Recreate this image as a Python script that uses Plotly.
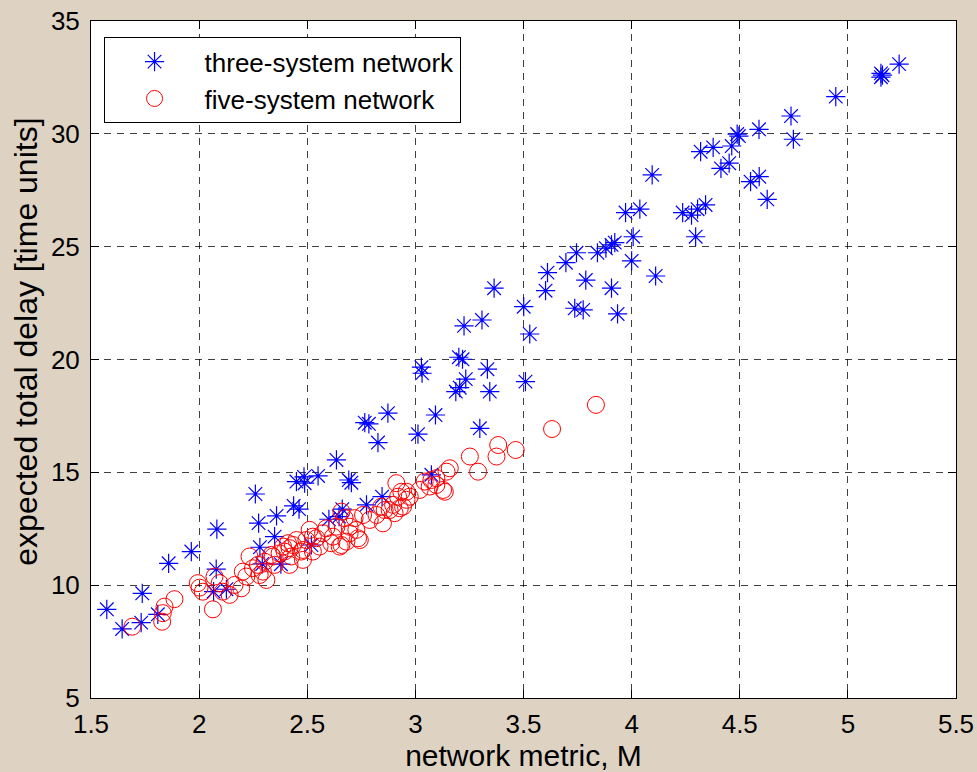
import plotly.graph_objects as go

# three-system network (blue stars)
three_x = [1.573, 1.644, 1.737, 1.732, 1.809, 1.859, 1.964, 2.082, 2.079, 2.067,
           2.126, 2.260, 2.275, 2.281, 2.292, 2.358, 2.349, 2.378, 2.437, 2.462,
           2.450, 2.485, 2.488, 2.550, 2.519, 2.600, 2.647, 2.662, 2.635, 2.692,
           2.704, 2.774, 2.846, 2.766, 2.785, 2.827, 2.873, 3.012, 3.093, 3.074,
           3.028, 3.031, 3.201, 3.218, 3.187, 3.205, 3.233, 3.225, 3.308, 3.333,
           3.344, 3.298, 3.364, 3.501, 3.509, 3.529, 3.602, 3.611, 3.696, 3.737,
           3.776, 3.745, 3.788, 3.842, 3.881, 3.907, 3.922, 3.907, 3.935, 3.972,
           4.007, 4.000, 4.038, 4.095, 4.111, 4.236, 4.277, 4.305, 4.342, 4.296,
           4.319, 4.377, 4.413, 4.451, 4.463, 4.488, 4.496, 4.589, 4.590, 4.550,
           4.627, 4.737, 4.748, 4.944, 5.153, 5.153, 5.160, 5.237]
three_y = [8.93, 8.06, 9.64, 8.34, 8.71, 10.97, 11.49, 12.48, 10.71, 9.71,
           9.82, 14.04, 12.75, 11.68, 10.94, 13.07, 12.15, 10.93, 13.51, 13.37,
           14.59, 14.80, 14.52, 14.84, 11.78, 12.92, 13.04, 13.37, 15.55, 14.66,
           14.54, 13.56, 13.92, 17.20, 17.15, 16.32, 17.62, 16.69, 17.54, 14.89,
           19.66, 19.39, 20.10, 20.01, 18.58, 18.75, 19.13, 21.49, 21.75, 19.57,
           18.58, 16.95, 23.16, 22.34, 19.02, 21.13, 23.05, 23.85, 24.29, 22.27,
           22.20, 24.73, 23.52, 24.73, 24.93, 25.08, 25.18, 23.16, 22.02, 26.51,
           25.44, 24.37, 26.66, 28.18, 23.70, 26.51, 26.40, 26.66, 26.85, 25.44,
           29.21, 29.40, 28.47, 28.70, 29.46, 29.99, 29.90, 30.20, 28.10, 27.88,
           27.10, 30.79, 29.76, 31.65, 32.68, 32.51, 32.60, 33.09]

# five-system network (red circles)
five_x = [1.691, 1.829, 1.832, 1.840, 1.886, 1.994, 2.002, 2.017, 2.064, 2.071,
          2.095, 2.110, 2.141, 2.164, 2.195, 2.202, 2.218, 2.249, 2.233, 2.272,
          2.295, 2.311, 2.334, 2.349, 2.395, 2.411, 2.280, 2.341, 2.388, 2.450,
          2.473, 2.418, 2.480, 2.496, 2.542, 2.526, 2.573, 2.619, 2.650, 2.635,
          2.673, 2.696, 2.735, 2.719, 2.758, 2.789, 2.820, 2.850, 2.858, 2.897,
          2.904, 2.943, 2.920, 2.935, 2.959, 2.974, 3.020, 3.043, 3.066, 3.097,
          3.128, 3.097, 3.159, 3.144, 3.252, 2.658, 2.588, 2.511, 2.557, 2.418,
          2.426, 2.681, 3.074, 3.136, 3.290, 3.383, 3.375, 3.464, 2.912, 2.959,
          2.928, 2.881, 2.843, 2.743, 2.727, 2.696, 2.658, 2.611, 2.480, 2.434,
          2.303, 2.372, 2.526, 3.632, 3.835]
five_y = [8.16, 8.38, 8.76, 9.05, 9.38, 10.09, 9.89, 9.71, 8.93, 10.38,
          10.09, 9.71, 9.57, 10.01, 9.86, 10.60, 10.38, 10.75, 11.27, 10.90,
          10.60, 10.23, 11.34, 10.90, 11.49, 11.86, 10.45, 11.27, 11.71, 12.00,
          11.49, 10.90, 11.12, 12.00, 12.08, 11.49, 12.30, 12.15, 11.71, 12.59,
          12.97, 12.59, 12.08, 12.97, 13.11, 12.89, 13.11, 12.74, 13.33, 13.56,
          13.19, 13.48, 13.92, 14.14, 14.14, 13.92, 14.22, 14.59, 14.37, 14.44,
          14.22, 14.74, 15.18, 15.03, 15.70, 13.26, 12.52, 12.45, 11.71, 11.64,
          11.27, 11.93, 14.66, 14.14, 15.03, 16.21, 15.70, 15.99, 14.52, 13.78,
          13.41, 13.33, 13.48, 12.00, 12.45, 12.30, 11.78, 11.86, 11.56, 11.78,
          11.04, 11.41, 12.15, 16.92, 17.99]

x_ticks = [1.5, 2, 2.5, 3, 3.5, 4, 4.5, 5, 5.5]
x_tick_text = ["1.5", "2", "2.5", "3", "3.5", "4", "4.5", "5", "5.5"]
y_ticks = [5, 10, 15, 20, 25, 30, 35]
y_tick_text = ["5", "10", "15", "20", "25", "30", "35"]

FONT = "Liberation Sans, Arial, Helvetica, sans-serif"

fig = go.Figure()
fig.add_trace(go.Scatter(
    x=three_x, y=three_y, mode="markers", name="three-system network",
    marker=dict(symbol="asterisk-open", size=16, color="rgb(0,0,255)",
                line=dict(color="rgb(0,0,255)", width=1.2)),
))
fig.add_trace(go.Scatter(
    x=five_x, y=five_y, mode="markers", name="five-system network",
    marker=dict(symbol="circle-open", size=17, color="rgb(255,0,0)",
                line=dict(color="rgb(255,0,0)", width=1)),
))

axis_common = dict(
    showline=True, linecolor="black", linewidth=1, mirror="ticks",
    ticks="inside", ticklen=8, tickcolor="black", tickwidth=1,
    showgrid=True, gridcolor="rgba(0,0,0,0.75)", gridwidth=1, griddash="7px,6px",
    zeroline=False, tickfont=dict(family=FONT, size=26, color="black"),
    automargin=False,
)

fig.update_layout(
    width=977, height=772,
    margin=dict(l=91, r=21, t=21, b=74),
    paper_bgcolor="rgb(222,211,195)",
    plot_bgcolor="white",
    font=dict(family=FONT, color="black"),
    xaxis=dict(range=[1.5, 5.5], tickvals=x_ticks, ticktext=x_tick_text,
               ticklabelstandoff=3,
               title=dict(text="network metric, M", font=dict(family=FONT, size=30),
                          standoff=2),
               **axis_common),
    yaxis=dict(range=[5, 35], tickvals=y_ticks, ticktext=y_tick_text,
               ticklabelstandoff=5,
               **axis_common),
    legend=dict(x=0.0145, y=0.976, xanchor="left", yanchor="top",
                bgcolor="white", bordercolor="black", borderwidth=1,
                font=dict(family=FONT, size=26, color="black"),
                itemwidth=90, tracegroupgap=0),
    showlegend=True,
    annotations=[dict(
        text="expected total delay [time units]", textangle=-90,
        xref="paper", yref="paper", x=-0.0746, y=0.527,
        xanchor="center", yanchor="middle", showarrow=False,
        font=dict(family=FONT, size=32, color="black"),
    )],
)

fig.write_html("out.html")
